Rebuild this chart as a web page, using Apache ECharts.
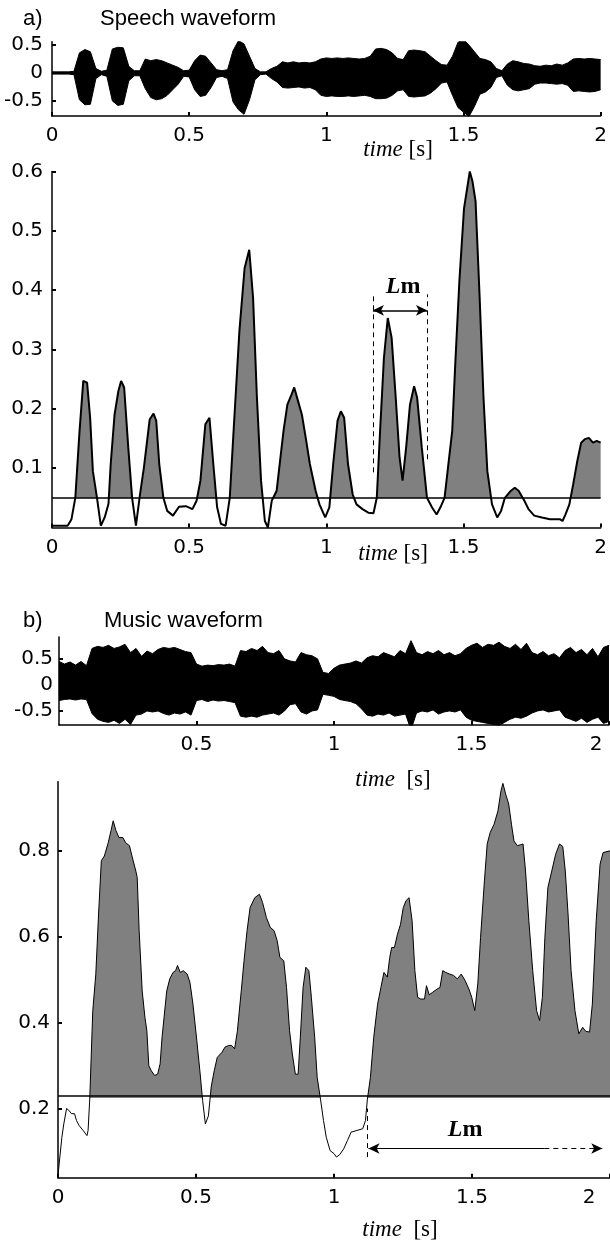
<!DOCTYPE html>
<html>
<head>
<meta charset="utf-8">
<script src="https://cdn.jsdelivr.net/npm/echarts@6/dist/echarts.min.js"></script>
<style>
  html, body { margin: 0; padding: 0; background: #fff; }
  #main { width: 610px; height: 1252px; }
</style>
</head>
<body>
<div id="main"></div>
<script>
// envelopes of the two waveforms, one value every 0.02 s from 0 to 2 s
const waveStep = 0.02;
const speechUpper = [
  .02, .02, .02, .02, .03, .36, .42, .38, .08, .03,
  .05, .43, .46, .45, .12, .04, .04, .25, .22, .24,
  .22, .18, .14, .10, .04, .05, .22, .32, .30, .18,
  .06, .04, .06, .40, .58, .52, .30, .08, .02, .02,
  .08, .12, .20, .18, .20, .18, .19, .18, .20, .25,
  .27, .26, .27, .26, .27, .26, .25, .26, .30, .43,
  .44, .42, .36, .26, .24, .40, .41, .40, .38, .30,
  .22, .15, .14, .30, .55, .60, .50, .38, .26, .24,
  .20, .08, .04, .16, .22, .20, .17, .16, .13, .12,
  .14, .13, .16, .14, .18, .25, .26, .25, .26, .25,
  .24
];
const speechLower = [
  -.02, -.02, -.02, -.02, -.03, -.48, -.57, -.56, -.10, -.03,
  -.06, -.50, -.58, -.56, -.14, -.05, -.05, -.28, -.44, -.48,
  -.46, -.40, -.30, -.20, -.06, -.07, -.30, -.42, -.40, -.26,
  -.08, -.06, -.10, -.52, -.66, -.74, -.48, -.12, -.03, -.02,
  -.10, -.16, -.26, -.27, -.26, -.25, -.27, -.26, -.30, -.40,
  -.42, -.41, -.42, -.42, -.41, -.42, -.41, -.40, -.42, -.46,
  -.46, -.45, -.40, -.32, -.30, -.42, -.43, -.42, -.41, -.36,
  -.28, -.18, -.16, -.40, -.62, -.70, -.78, -.60, -.38, -.34,
  -.26, -.08, -.05, -.22, -.30, -.32, -.30, -.28, -.20, -.18,
  -.18, -.19, -.20, -.19, -.22, -.33, -.32, -.33, -.34, -.33,
  -.30
];
const musicUpper = [
  .45, .40, .44, .38, .45, .37, .70, .74, .72, .76,
  .70, .73, .78, .62, .70, .55, .65, .60, .68, .72,
  .70, .72, .68, .64, .62, .40, .36, .38, .37, .39,
  .38, .40, .36, .66, .64, .70, .66, .74, .62, .60,
  .66, .50, .46, .44, .62, .58, .56, .50, .24, .22,
  .32, .38, .40, .42, .46, .42, .52, .56, .54, .62,
  .58, .54, .66, .60, .85, .62, .58, .64, .60, .66,
  .58, .62, .56, .60, .70, .76, .80, .72, .78, .76,
  .82, .74, .70, .78, .68, .80, .62, .58, .64, .56,
  .60, .52, .66, .72, .62, .68, .58, .70, .54, .72,
  .76
];
const musicLower = [
  -.30, -.28, -.27, -.29, -.27, -.28, -.55, -.66, -.70, -.72,
  -.68, -.74, -.66, -.76, -.58, -.56, -.50, -.52, -.50, -.55,
  -.58, -.54, -.56, -.52, -.58, -.30, -.28, -.32, -.29, -.31,
  -.30, -.32, -.34, -.60, -.62, -.60, -.62, -.58, -.56, -.54,
  -.58, -.50, -.38, -.36, -.52, -.56, -.50, -.48, -.18, -.20,
  -.22, -.28, -.30, -.32, -.36, -.46, -.58, -.60, -.56, -.58,
  -.54, -.60, -.58, -.56, -.86, -.54, -.50, -.52, -.48, -.56,
  -.52, -.50, -.52, -.48, -.62, -.68, -.70, -.72, -.74, -.76,
  -.78, -.72, -.66, -.62, -.64, -.60, -.54, -.50, -.48, -.52,
  -.50, -.48, -.62, -.66, -.70, -.64, -.72, -.66, -.62, -.74,
  -.70
];

// short-time energy curves
const speechEnergyT = [0, 0.057, 0.071, 0.078, 0.085, 0.100, 0.114, 0.128, 0.139, 0.149,
  0.164, 0.178, 0.192, 0.206, 0.214, 0.228, 0.242, 0.252, 0.263, 0.278,
  0.292, 0.306, 0.320, 0.335, 0.356, 0.370, 0.380, 0.391, 0.406, 0.420,
  0.441, 0.463, 0.488, 0.498, 0.512, 0.527, 0.541, 0.559, 0.574, 0.588,
  0.602, 0.616, 0.633, 0.648, 0.662, 0.683, 0.702, 0.719, 0.733, 0.747,
  0.762, 0.776, 0.787, 0.801, 0.819, 0.830, 0.844, 0.858, 0.873, 0.883,
  0.897, 0.911, 0.925, 0.940, 0.961, 0.975, 0.996, 1.011, 1.025, 1.041,
  1.053, 1.065, 1.079, 1.096, 1.110, 1.132, 1.153, 1.172, 1.184, 1.196,
  1.210, 1.224, 1.238, 1.253, 1.267, 1.278, 1.291, 1.305, 1.320, 1.331,
  1.348, 1.367, 1.385, 1.402, 1.416, 1.431, 1.445, 1.459, 1.470, 1.485,
  1.502, 1.523, 1.533, 1.544, 1.559, 1.573, 1.587, 1.604, 1.623, 1.637,
  1.651, 1.673, 1.687, 1.701, 1.722, 1.737, 1.758, 1.786, 1.815, 1.851,
  1.861, 1.872, 1.886, 1.900, 1.915, 1.929, 1.943, 1.957, 1.972, 1.986,
  2.0];
const speechEnergyV = [0.003, 0.003, 0.014, 0.017, 0.05, 0.16, 0.247, 0.244, 0.185, 0.095,
  0.05, 0.003, 0.017, 0.04, 0.107, 0.19, 0.23, 0.247, 0.236, 0.135,
  0.05, 0.003, 0.053, 0.101, 0.182, 0.192, 0.18, 0.107, 0.05, 0.028,
  0.02, 0.035, 0.036, 0.034, 0.031, 0.045, 0.079, 0.174, 0.185, 0.107,
  0.034, 0.006, 0.003, 0.05, 0.163, 0.33, 0.437, 0.468, 0.387, 0.219,
  0.079, 0.011, 0.0, 0.045, 0.062, 0.107, 0.163, 0.207, 0.224, 0.236,
  0.213, 0.19, 0.151, 0.107, 0.062, 0.039, 0.017, 0.034, 0.107, 0.18,
  0.196, 0.185, 0.107, 0.056, 0.039, 0.031, 0.025, 0.024, 0.05, 0.163,
  0.286, 0.353, 0.32, 0.219, 0.118, 0.079, 0.135, 0.207, 0.238, 0.219,
  0.135, 0.05, 0.034, 0.022, 0.034, 0.05, 0.107, 0.163, 0.275, 0.415,
  0.538, 0.6, 0.583, 0.55, 0.387, 0.219, 0.095, 0.039, 0.017, 0.028,
  0.05, 0.062, 0.067, 0.062, 0.045, 0.031, 0.02, 0.017, 0.014, 0.014,
  0.011, 0.022, 0.039, 0.073, 0.112, 0.143, 0.149, 0.151, 0.143, 0.146,
  0.143];
const musicEnergyT = [0, 0.014, 0.021, 0.031, 0.039, 0.049, 0.060, 0.067, 0.077, 0.091,
  0.105, 0.109, 0.115, 0.126, 0.137, 0.147, 0.157, 0.168, 0.182, 0.192,
  0.200, 0.210, 0.221, 0.235, 0.245, 0.259, 0.268, 0.282, 0.287, 0.294,
  0.305, 0.315, 0.322, 0.329, 0.338, 0.350, 0.361, 0.370, 0.377, 0.394,
  0.405, 0.417, 0.426, 0.433, 0.443, 0.454, 0.468, 0.478, 0.489, 0.503,
  0.514, 0.524, 0.534, 0.545, 0.555, 0.566, 0.577, 0.594, 0.605, 0.618,
  0.629, 0.640, 0.650, 0.664, 0.674, 0.685, 0.696, 0.713, 0.730, 0.741,
  0.755, 0.769, 0.783, 0.794, 0.804, 0.818, 0.828, 0.839, 0.849, 0.860,
  0.870, 0.878, 0.888, 0.898, 0.909, 0.918, 0.930, 0.939, 0.951, 0.962,
  0.972, 0.986, 1.000, 1.009, 1.021, 1.035, 1.049, 1.062, 1.083, 1.104,
  1.114, 1.121, 1.132, 1.144, 1.158, 1.170, 1.181, 1.193, 1.202, 1.209,
  1.219, 1.230, 1.241, 1.251, 1.261, 1.272, 1.283, 1.293, 1.303, 1.314,
  1.328, 1.335, 1.345, 1.356, 1.373, 1.384, 1.394, 1.405, 1.419, 1.433,
  1.447, 1.461, 1.475, 1.489, 1.499, 1.510, 1.521, 1.531, 1.545, 1.555,
  1.566, 1.580, 1.594, 1.605, 1.612, 1.622, 1.633, 1.643, 1.652, 1.664,
  1.675, 1.685, 1.694, 1.706, 1.720, 1.734, 1.745, 1.755, 1.764, 1.775,
  1.789, 1.803, 1.817, 1.829, 1.838, 1.848, 1.859, 1.873, 1.887, 1.901,
  1.912, 1.926, 1.936, 1.950, 1.964, 1.975, 1.982, 2.0];
const musicEnergyV = [0.045, 0.133, 0.164, 0.2, 0.196, 0.188, 0.188, 0.172, 0.16, 0.149,
  0.137, 0.149, 0.222, 0.428, 0.513, 0.653, 0.777, 0.788, 0.819, 0.847,
  0.87, 0.847, 0.831, 0.831, 0.819, 0.812, 0.788, 0.753, 0.738, 0.614,
  0.474, 0.412, 0.381, 0.3, 0.288, 0.277, 0.28, 0.304, 0.366, 0.474,
  0.502, 0.517, 0.521, 0.533, 0.517, 0.521, 0.513, 0.494, 0.443, 0.358,
  0.288, 0.219, 0.164, 0.183, 0.25, 0.288, 0.319, 0.331, 0.343, 0.347,
  0.347, 0.339, 0.381, 0.474, 0.544, 0.614, 0.668, 0.691, 0.699, 0.68,
  0.645, 0.622, 0.614, 0.591, 0.552, 0.544, 0.482, 0.381, 0.327, 0.28,
  0.28, 0.366, 0.482, 0.529, 0.521, 0.459, 0.366, 0.273, 0.222, 0.172,
  0.133, 0.102, 0.095, 0.087, 0.093, 0.106, 0.126, 0.145, 0.149, 0.153,
  0.172, 0.222, 0.273, 0.366, 0.443, 0.482, 0.517, 0.506, 0.552, 0.575,
  0.575, 0.606, 0.629, 0.668, 0.684, 0.691, 0.637, 0.521, 0.459, 0.455,
  0.455, 0.486, 0.465, 0.47, 0.478, 0.482, 0.521, 0.517, 0.513, 0.51,
  0.502, 0.513, 0.498, 0.478, 0.459, 0.428, 0.49, 0.598, 0.73, 0.816,
  0.843, 0.862, 0.893, 0.94, 0.957, 0.932, 0.909, 0.862, 0.823, 0.812,
  0.814, 0.816, 0.753, 0.637, 0.521, 0.428, 0.405, 0.459, 0.598, 0.715,
  0.753, 0.792, 0.816, 0.81, 0.753, 0.653, 0.521, 0.428, 0.374, 0.389,
  0.38, 0.378, 0.443, 0.637, 0.769, 0.796, 0.8, 0.8];

const speechThreshold = 0.05;
const musicThreshold = 0.225;

// tick values
const timeTicks = [0, 0.5, 1, 1.5, 2];
const musicWaveTimeTicks = [0.5, 1, 1.5, 2];
const waveTicks = [-0.5, 0, 0.5];
const speechEnergyTicks = [0.1, 0.2, 0.3, 0.4, 0.5, 0.6];
const musicEnergyTicks = [0.2, 0.4, 0.6, 0.8];

// Lm annotations (time, value)
const speechLmT = [1.17, 1.367];
const speechLmDashLeft = [0.093, 0.393];
const speechLmDashRight = [0.115, 0.393];
const speechLmArrowV = 0.366;
const speechLmLabel = [1.28, 0.405];
const musicLmT = [1.125, 1.762, 1.972];
const musicLmDash = [0.087, 0.2];
const musicLmDashT = 1.121;
const musicLmArrowV = 0.107;
const musicLmLabel = [1.475, 0.15];

const SANS = 'DejaVu Sans';
const TITLE = 'Liberation Sans';
const SERIF = 'Liberation Serif';
const GRAY = '#808080';
const CLEAR = 'rgba(0,0,0,0)';

function waveData(vals) {
  return vals.map(function (v, i) { return [+(i * waveStep).toFixed(2), v]; });
}
function pairs(ts, vs) {
  return ts.map(function (t, i) { return [t, vs[i]]; });
}

function timeAxis(gridIndex, max, labels, shiftLast) {
  return {
    type: 'value', gridIndex: gridIndex, min: 0, max: max,
    axisLine: { show: true, onZero: false, lineStyle: { color: '#000', width: 1.5 } },
    axisTick: { show: true, inside: true, length: 4, customValues: labels, lineStyle: { color: '#000', width: 2 } },
    axisLabel: {
      color: '#000', fontFamily: SANS, fontSize: 20, margin: 10, customValues: labels,
      formatter: function (v) { return (shiftLast && v === max) ? '{r|' + v + '}' : String(v); },
      rich: { r: { color: '#000', fontFamily: SANS, fontSize: 20, padding: [0, shiftLast || 0, 0, 0] } }
    },
    splitLine: { show: false }
  };
}

function valueAxis(gridIndex, min, max, labels, margin) {
  return {
    type: 'value', gridIndex: gridIndex, min: min, max: max,
    axisLine: { show: true, onZero: false, lineStyle: { color: '#000', width: 1.5 } },
    axisTick: { show: true, inside: true, length: 4, customValues: labels, lineStyle: { color: '#000', width: 2 } },
    axisLabel: { color: '#000', fontFamily: SANS, fontSize: 20, margin: margin, customValues: labels },
    splitLine: { show: false }
  };
}

function envelope(idx, vals) {
  return {
    type: 'line', xAxisIndex: idx, yAxisIndex: idx, data: waveData(vals),
    symbol: 'none', silent: true,
    lineStyle: { color: '#000', width: 1 },
    itemStyle: { color: '#000' },
    areaStyle: { color: '#000', opacity: 1 }
  };
}

// grey fill between the threshold and the curve, coloured by value through a visualMap
function energyFill(idx, ts, vs) {
  return {
    type: 'line', xAxisIndex: idx, yAxisIndex: idx, data: pairs(ts, vs),
    symbol: 'none', silent: true,
    lineStyle: { width: 0, opacity: 0 },
    areaStyle: { opacity: 1, origin: 'start' }
  };
}

function thresholdMap(seriesIndex, thr) {
  return {
    type: 'piecewise', show: false, seriesIndex: seriesIndex, dimension: 1,
    pieces: [{ min: -10, max: thr, color: CLEAR }, { min: thr, max: 10, color: GRAY }],
    outOfRange: { color: CLEAR }
  };
}

const solid = function (w) { return { type: 'solid', color: '#000', width: w }; };
const dashed = { type: [5, 4], color: '#000', width: 1 };
const lmRich = {
  l: { fontFamily: SERIF, fontStyle: 'italic', fontWeight: 'bold', fontSize: 24, color: '#000' },
  m: { fontFamily: SERIF, fontWeight: 'bold', fontSize: 24, color: '#000' }
};
function lmLabel(coord) {
  return {
    symbol: 'circle', symbolSize: 0, silent: true,
    label: { show: true, position: 'inside', formatter: '{l|L}{m|m}', rich: lmRich },
    data: [{ coord: coord }]
  };
}
function timeName(x, y, text) {
  return {
    type: 'text', x: x, y: y,
    style: {
      text: text, fontFamily: SERIF, fontSize: 23, fill: '#000', align: 'center', verticalAlign: 'middle',
      rich: { i: { fontFamily: SERIF, fontStyle: 'italic', fontSize: 23, fill: '#000' } }
    }
  };
}
function title(x, y, text) {
  return { type: 'text', x: x, y: y, style: { text: text, fontFamily: TITLE, fontSize: 22, fill: '#000', verticalAlign: 'middle' } };
}

const chart = echarts.init(document.getElementById('main'));
chart.setOption({
  animation: false,
  backgroundColor: '#fff',
  grid: [
    { left: 52, top: 41.7, width: 551, height: 74.3 },
    { left: 52, top: 171.5, width: 551, height: 356 },
    { left: 59, top: 637, width: 550, height: 88 },
    { left: 58, top: 781.7, width: 558, height: 396 }
  ],
  xAxis: [
    timeAxis(0, 2, timeTicks, 0),
    timeAxis(1, 2, timeTicks, 0),
    timeAxis(2, 2, musicWaveTimeTicks, 26),
    timeAxis(3, 2, timeTicks, 42)
  ],
  yAxis: [
    valueAxis(0, -0.77, 0.56, waveTicks, 9),
    valueAxis(1, 0, 0.6, speechEnergyTicks, 9),
    valueAxis(2, -0.77, 0.92, waveTicks, 6),
    valueAxis(3, 0.039, 0.961, musicEnergyTicks, 8)
  ],
  visualMap: [
    thresholdMap(2, speechThreshold),
    thresholdMap(6, musicThreshold)
  ],
  series: [
    envelope(0, speechUpper),
    envelope(0, speechLower),
    energyFill(1, speechEnergyT, speechEnergyV),
    {
      type: 'line', xAxisIndex: 1, yAxisIndex: 1, data: pairs(speechEnergyT, speechEnergyV),
      symbol: 'none', silent: true, lineStyle: { color: '#000', width: 2 },
      markLine: {
        silent: true, symbol: ['none', 'none'], label: { show: false },
        data: [
          { yAxis: speechThreshold, lineStyle: solid(1.5) },
          [{ coord: [speechLmT[0], speechLmDashLeft[0]], lineStyle: dashed }, { coord: [speechLmT[0], speechLmDashLeft[1]] }],
          [{ coord: [speechLmT[1], speechLmDashRight[0]], lineStyle: dashed }, { coord: [speechLmT[1], speechLmDashRight[1]] }],
          [{ coord: [speechLmT[0], speechLmArrowV], symbol: 'arrow', symbolSize: [8, 11], lineStyle: solid(1.5) },
           { coord: [speechLmT[1], speechLmArrowV], symbol: 'arrow', symbolSize: [8, 11] }]
        ]
      },
      markPoint: lmLabel(speechLmLabel)
    },
    envelope(2, musicUpper),
    envelope(2, musicLower),
    energyFill(3, musicEnergyT, musicEnergyV),
    {
      type: 'line', xAxisIndex: 3, yAxisIndex: 3, data: pairs(musicEnergyT, musicEnergyV),
      symbol: 'none', silent: true, lineStyle: { color: '#000', width: 1 },
      markLine: {
        silent: true, symbol: ['none', 'none'], label: { show: false },
        data: [
          { yAxis: musicThreshold, lineStyle: solid(1.5) },
          [{ coord: [musicLmDashT, musicLmDash[0]], lineStyle: dashed }, { coord: [musicLmDashT, musicLmDash[1]] }],
          [{ coord: [musicLmT[0], musicLmArrowV], symbol: 'arrow', symbolSize: [8, 11], lineStyle: solid(1.2) },
           { coord: [musicLmT[1], musicLmArrowV], symbol: 'none' }],
          [{ coord: [musicLmT[1], musicLmArrowV], symbol: 'none', lineStyle: dashed },
           { coord: [musicLmT[2], musicLmArrowV], symbol: 'arrow', symbolSize: [8, 11] }]
        ]
      },
      markPoint: lmLabel(musicLmLabel)
    }
  ],
  graphic: [
    title(23, 19, 'a)'),
    title(100, 19, 'Speech waveform'),
    title(23, 621, 'b)'),
    title(104, 621, 'Music waveform'),
    timeName(398, 150, '{i|time} [s]'),
    timeName(393, 554, '{i|time} [s]'),
    timeName(393, 780, '{i|time}  [s]'),
    timeName(400, 1230, '{i|time}  [s]')
  ]
});
</script>
</body>
</html>
